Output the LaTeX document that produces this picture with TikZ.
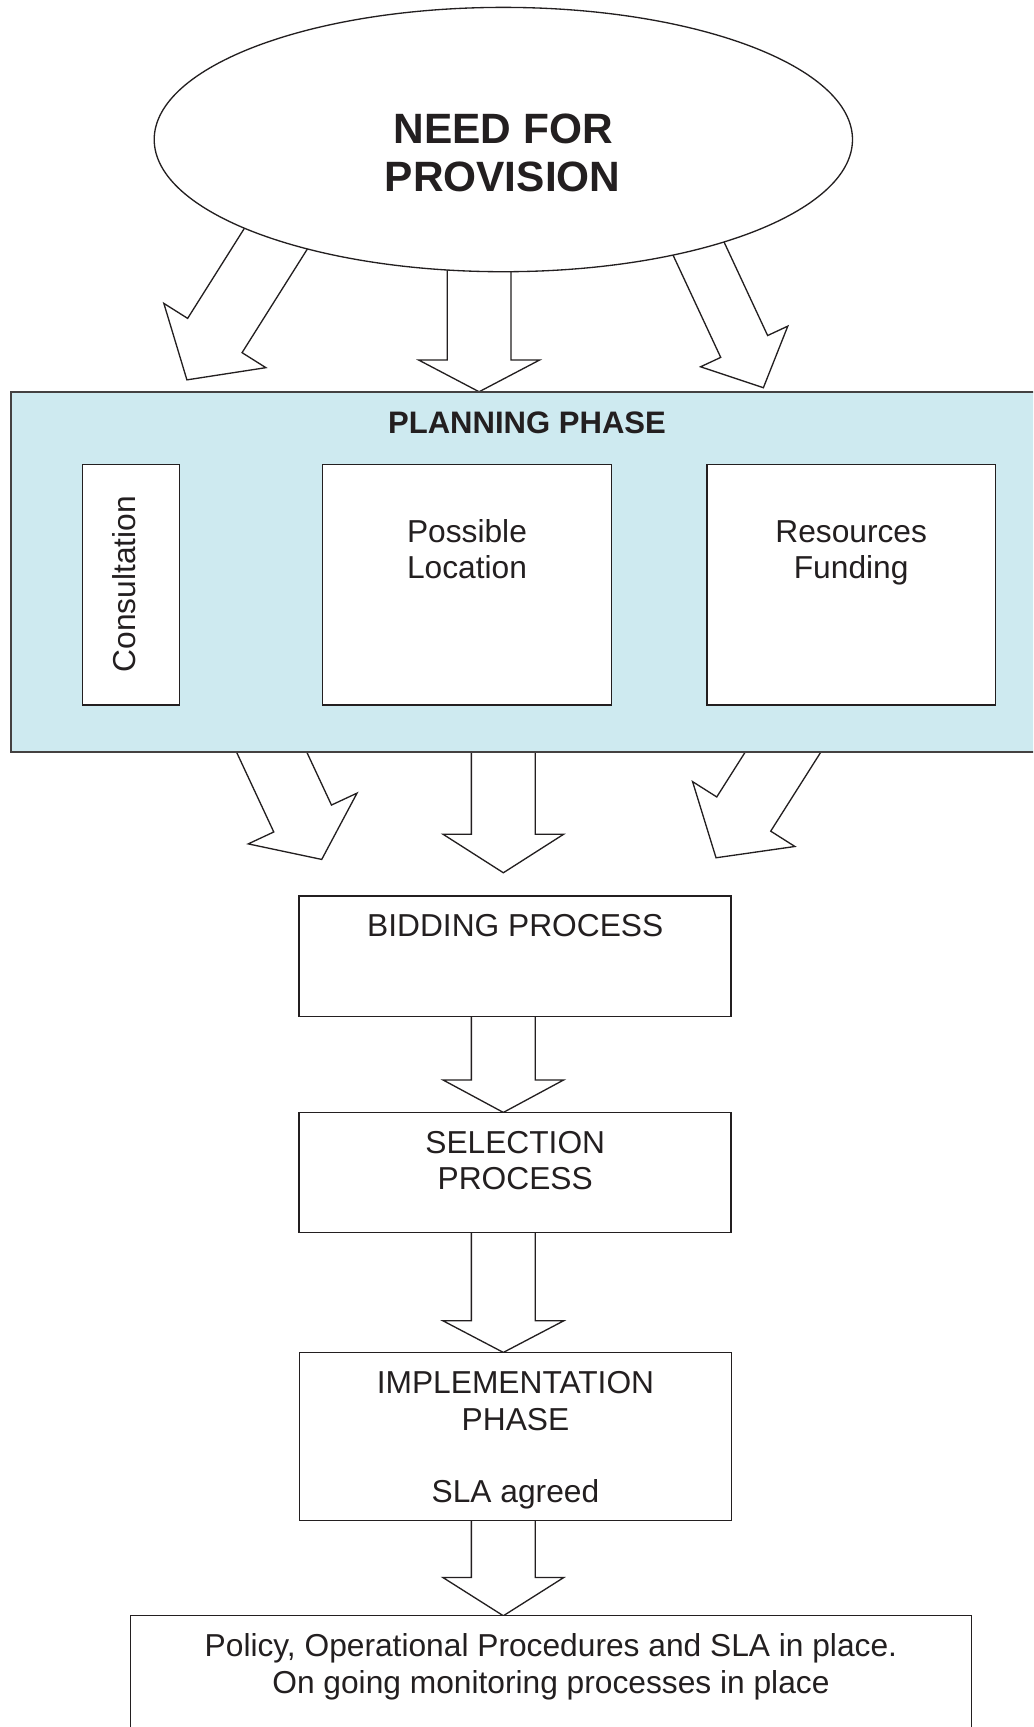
\documentclass[tikz,border=0pt]{standalone}
\usepackage{fontspec}
\setmainfont{Liberation Sans}
\usetikzlibrary{calc,shapes.geometric}
\pgfdeclarelayer{pagebg}
\pgfdeclarelayer{background}
\pgfsetlayers{pagebg,background,main}
\definecolor{planfill}{RGB}{206,234,240}
\definecolor{ink}{RGB}{35,31,32}
\newcommand{\blockarr}[5]{%
  \path ($(#2)!#5!(#1)$) coordinate (bh);
  \draw[barrow] ($(#1)!#3!90:(#2)$) -- ($(bh)!#3!90:(#2)$) -- ($(bh)!#4!90:(#2)$) -- (#2) -- ($(bh)!#4!-90:(#2)$) -- ($(bh)!#3!-90:(#2)$) -- ($(#1)!#3!-90:(#2)$);}
\begin{document}
\begin{tikzpicture}[x=1pt,y=-1pt,
  barrow/.style={fill=white,draw=ink,line width=1.2pt,line join=miter},
  box/.style={draw=ink,fill=white,line width=1.2pt,inner sep=0pt,outer sep=0pt,anchor=north west},
  txt/.style={font=\fontsize{28.8}{33}\selectfont,text=ink,anchor=base,inner sep=0pt},
  ttl/.style={font=\fontsize{38.5}{44}\selectfont\bfseries,text=ink,anchor=base,inner sep=0pt},
  ptl/.style={font=\fontsize{28.2}{33}\selectfont\bfseries,text=ink,anchor=base,inner sep=0pt}]
\useasboundingbox (0,0) rectangle (938,1568);
\begin{pgfonlayer}{pagebg}
\fill[white] (0,0) rectangle (938,1568);
\end{pgfonlayer}
\clip (0,0) rectangle (938,1568);
% top ellipse
\node[ellipse,draw=ink,fill=white,line width=1.2pt,minimum width=634pt,minimum height=240pt,inner sep=0pt,outer sep=0pt] (need) at (457,126.7) {};
\node[ttl] (needa) at (456.9,130.1) {NEED FOR};
\node[ttl] (needb) at (456.3,174) {PROVISION};
% planning phase
\node[box,draw=ink!85,fill=planfill,line width=1.8pt,minimum width=950pt,minimum height=326.2pt] (plan) at (10,356.3) {};
\node[ptl] (plant) at (478.5,393.5) {PLANNING PHASE};
\node[box,minimum width=87.9pt,minimum height=218.6pt] (cons) at (74.8,421.6) {};
\node[txt,rotate=90] (const) at (122.6,530.5) {Consultation};
\node[box,minimum width=262pt,minimum height=218.6pt] (loc) at (293,421.6) {};
\node[txt] (loca) at (424,492.4) {Possible};
\node[txt] (locb) at (424,525.1) {Location};
\node[box,minimum width=262pt,minimum height=218.6pt] (res) at (641.8,421.6) {};
\node[txt] (resa) at (772.8,492.4) {Resources};
\node[txt] (resb) at (772.8,525.5) {Funding};
% process boxes
\node[box,minimum width=392.4pt,minimum height=109.5pt] (bid) at (271.4,813.6) {};
\node[txt] (bidt) at (467.8,850.5) {BIDDING PROCESS};
\node[box,minimum width=392.4pt,minimum height=109pt] (sel) at (271.4,1010) {};
\node[txt] (sela) at (467.8,1047) {SELECTION};
\node[txt] (selb) at (467.8,1080) {PROCESS};
\node[box,minimum width=392.5pt,minimum height=152.9pt] (imp) at (271.7,1227.9) {};
\node[txt] (impa) at (468,1265) {IMPLEMENTATION};
\node[txt] (impb) at (468,1298.5) {PHASE};
\node[txt] (impc) at (468,1364.5) {SLA agreed};
\node[box,minimum width=763.6pt,minimum height=150pt] (fin) at (118.4,1467) {};
\node[txt] (fina) at (500.2,1504.3) {Policy, Operational Procedures and SLA in place.};
\node[txt] (finb) at (500.2,1537.6) {On going monitoring processes in place};
% block arrows
\coordinate (ax) at (457,0);
\coordinate (tla) at (276.3,175.7);
\coordinate (tlb) at (169.7,344.9);
\coordinate (tca) at (435,200);
\coordinate (tcb) at (435,355.7);
\coordinate (tra) at (608.6,170.7);
\coordinate (trb) at (693.1,352);
\coordinate (bla) at (228.7,644.4);
\coordinate (blb) at (292.1,780.3);
\coordinate (bca) at (457,650);
\coordinate (bcb) at (457,792.4);
\coordinate (bra) at (730.4,652.1);
\coordinate (brb) at (650.1,778.8);
\begin{pgfonlayer}{background}
\blockarr{tla}{tlb}{29.2pt}{54.75pt}{47.6pt}
\blockarr{tca}{tcb}{29pt}{54.85pt}{28.8pt}
\blockarr{tra}{trb}{23.5pt}{43.7pt}{41.3pt}
\blockarr{bla}{blb}{28.9pt}{54.5pt}{41pt}
\blockarr{bca}{bcb}{29pt}{54.8pt}{35pt}
\blockarr{bra}{brb}{29pt}{55pt}{47pt}
\blockarr{bid.south -| ax}{sel.north -| ax}{29pt}{54.8pt}{29.5pt}
\blockarr{sel.south -| ax}{imp.north -| ax}{29pt}{54.8pt}{28.7pt}
\blockarr{imp.south -| ax}{fin.north -| ax}{29pt}{54.8pt}{34.7pt}
\end{pgfonlayer}
\end{tikzpicture}
\end{document}
